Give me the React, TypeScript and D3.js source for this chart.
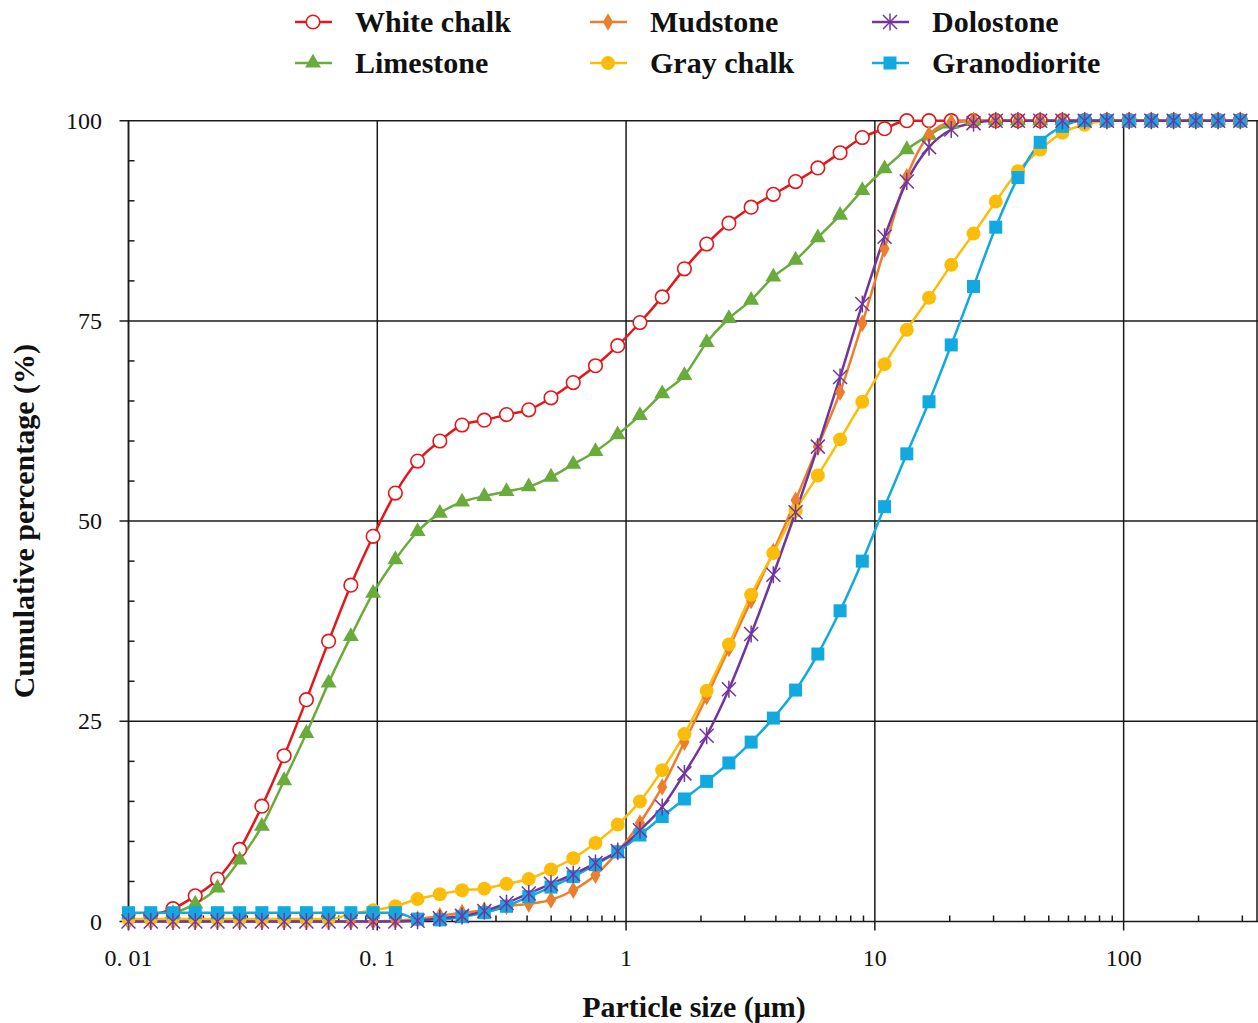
import * as d3 from 'd3'

// particle size classes (µm)
const sizes = [
  0.01, 0.01229, 0.01509, 0.01854, 0.02278, 0.02798, 0.03437, 0.04223, 0.05188, 0.06373,
  0.07829, 0.0962, 0.1182, 0.1452, 0.1784, 0.2191, 0.2692, 0.3307, 0.4063, 0.4991,
  0.6132, 0.7534, 0.9255, 1.137, 1.397, 1.716, 2.108, 2.59, 3.182, 3.908,
  4.802, 5.899, 7.247, 8.903, 10.94, 13.44, 16.51, 20.28, 24.92, 30.61,
  37.6, 46.19, 56.75, 69.71, 85.64, 105.2, 129.2, 158.8, 195.1, 239.7, 294.4,
]

const whiteChalk = [
  null, 0.8, 1.6, 3.2, 5.3, 9.0, 14.4, 20.7, 27.7, 35.0,
  42.0, 48.1, 53.5, 57.5, 60.0, 62.0, 62.6, 63.3, 63.9, 65.4,
  67.3, 69.4, 71.9, 74.8, 78.0, 81.5, 84.6, 87.2, 89.2, 90.8,
  92.4, 94.1, 96.0, 97.9, 99.0, 100, 100, 100, 100, 100,
  100, 100, 100, 100, 100, 100, 100, 100, 100, 100, 100,
]
const limestone = [
  null, null, 1.0, 2.2, 4.2, 7.7, 11.9, 17.6, 23.5, 29.8,
  35.6, 41.0, 45.2, 48.7, 51.0, 52.4, 53.1, 53.7, 54.3, 55.5,
  57.1, 58.7, 60.8, 63.2, 65.9, 68.2, 72.3, 75.3, 77.6, 80.5,
  82.6, 85.4, 88.2, 91.3, 94.0, 96.4, 98.2, 99.6, 100, 100,
  100, 100, 100, 100, 100, 100, 100, 100, 100, 100, 100,
]
const mudstone = [
  0, 0, 0, 0, 0, 0, 0, 0, 0, 0,
  0, 0, 0.1, 0.3, 0.7, 1.1, 1.4, 1.9, 2.2, 2.7,
  3.9, 5.8, 8.7, 12.3, 16.8, 22.4, 28.1, 34.1, 40.1, 46.2,
  52.6, 59.3, 66.1, 74.7, 84.0, 93.0, 98.2, 99.8, 100, 100,
  100, 100, 100, 100, 100, 100, 100, 100, 100, 100, 100,
]
const grayChalk = [
  0.3, 0.3, 0.3, 0.3, 0.3, 0.3, 0.3, 0.3, 0.3, 0.3,
  0.9, 1.4, 1.9, 2.8, 3.4, 3.9, 4.1, 4.7, 5.3, 6.5,
  7.9, 9.8, 12.1, 15.0, 18.9, 23.4, 28.8, 34.6, 40.8, 46.0,
  51.3, 55.7, 60.2, 64.9, 69.6, 73.9, 77.9, 82.0, 85.9, 89.9,
  93.7, 96.4, 98.5, 99.5, 100, 100, 100, 100, 100, 100, 100,
]
const dolostone = [
  0, 0, 0, 0, 0, 0, 0, 0, 0, 0,
  0, 0, 0, 0.1, 0.4, 0.7, 1.3, 2.3, 3.5, 4.7,
  5.9, 7.3, 8.8, 11.4, 14.3, 18.5, 23.2, 29.0, 35.9, 43.3,
  51.1, 59.3, 68.0, 77.1, 85.5, 92.4, 96.7, 98.9, 99.7, 100,
  100, 100, 100, 100, 100, 100, 100, 100, 100, 100, 100,
]
const granodiorite = [
  1.1, 1.1, 1.1, 1.1, 1.1, 1.1, 1.1, 1.1, 1.1, 1.1,
  1.1, 1.1, 1.1, 0.3, 0.2, 0.6, 1.1, 1.9, 3.1, 4.3,
  5.6, 7.1, 8.7, 10.8, 13.1, 15.3, 17.5, 19.8, 22.4, 25.4,
  28.9, 33.4, 38.8, 45.0, 51.8, 58.4, 64.9, 72.0, 79.3, 86.7,
  92.9, 97.3, 99.3, 100, 100, 100, 100, 100, 100, 100, 100,
]

const xTicks = [0.01, 0.1, 1, 10, 100]
const xTickLabels = ['0. 01', '0. 1', '1', '10', '100']
const yTicks = [0, 25, 50, 75, 100]

type Shape = 'openCircle' | 'triangle' | 'diamond' | 'circle' | 'square' | 'star'

interface Series {
  name: string
  values: (number | null)[]
  color: string
  shape: Shape
}

// drawing order (dolostone sits on top)
const series: Series[] = [
  { name: 'White chalk', values: whiteChalk, color: '#e5171b', shape: 'openCircle' },
  { name: 'Limestone', values: limestone, color: '#6aac3c', shape: 'triangle' },
  { name: 'Mudstone', values: mudstone, color: '#ee7d2c', shape: 'diamond' },
  { name: 'Gray chalk', values: grayChalk, color: '#fbbd0a', shape: 'circle' },
  { name: 'Granodiorite', values: granodiorite, color: '#12a9e0', shape: 'square' },
  { name: 'Dolostone', values: dolostone, color: '#7135a0', shape: 'star' },
]

const legendOrder = [
  ['White chalk', 'Mudstone', 'Dolostone'],
  ['Limestone', 'Gray chalk', 'Granodiorite'],
]

const W = 1258
const H = 1023
const font = '"Liberation Serif", "Times New Roman", serif'

const x = d3.scaleLog().domain([0.01, 350]).range([128.5, 1259])
const y = d3.scaleLinear().domain([0, 100]).range([921.5, 120.7])

const Marker = ({ shape, color, cx, cy }: { shape: Shape; color: string; cx: number; cy: number }) => {
  const t = `translate(${cx},${cy})`
  switch (shape) {
    case 'openCircle':
      return <circle cx={cx} cy={cy} r={6.8} fill="#fff" stroke={color} strokeWidth={1.6} />
    case 'circle':
      return <circle cx={cx} cy={cy} r={7} fill={color} />
    case 'triangle':
      return <path transform={t} d={d3.symbol(d3.symbolTriangle, 110)() ?? ''} fill={color} />
    case 'diamond':
      return <path transform={t} d={d3.symbol(d3.symbolDiamond, 90)() ?? ''} fill={color} />
    case 'square':
      return <rect x={cx - 6.5} y={cy - 6.5} width={13} height={13} fill={color} />
    case 'star':
      return (
        <g transform={t} stroke={color} strokeWidth={1.5} fill="none">
          <line x1={-7} y1={-7} x2={7} y2={7} />
          <line x1={-7} y1={7} x2={7} y2={-7} />
          <line x1={0} y1={-8.5} x2={0} y2={8.5} />
        </g>
      )
  }
}

const App = () => {
  const line = d3
    .line<{ s: number; v: number | null }>()
    .defined(d => d.v != null)
    .x(d => x(d.s))
    .y(d => y(d.v as number))
    .curve(d3.curveMonotoneX)

  const minorX: number[] = []
  xTicks.forEach(d => {
    for (let k = 2; k <= 9; k++) if (d * k <= 350) minorX.push(d * k)
  })
  const minorY = d3.range(5, 100, 5).filter(v => v % 25 !== 0)

  const [x0] = x.range()
  const [yb, yt] = y.range()

  return (
    <svg width={W} height={H} style={{ position: 'absolute', left: 0, top: 0, background: '#fff' }} fontFamily={font}>
      {/* grid */}
      <g stroke="#1a1a1a" strokeWidth={1.5}>
        {yTicks.map(v => (
          <line key={'h' + v} x1={x0 - 9} x2={W} y1={y(v)} y2={y(v)} />
        ))}
        {xTicks.map(v => (
          <line key={'v' + v} x1={x(v)} x2={x(v)} y1={yt} y2={yb + 9} />
        ))}
        <line x1={x0} x2={x0} y1={yt} y2={yb} />
        <line x1={W - 1} x2={W - 1} y1={yt} y2={yb} />
        {minorX.map(v => (
          <line key={'mx' + v} x1={x(v)} x2={x(v)} y1={yb} y2={yb - 6} />
        ))}
        {minorY.map(v => (
          <line key={'my' + v} x1={x0} x2={x0 + 6} y1={y(v)} y2={y(v)} />
        ))}
      </g>

      {/* tick labels */}
      <g fontSize={24} fill="#111">
        {xTicks.map((v, i) => (
          <text key={'xl' + v} x={x(v)} y={966} textAnchor="middle">
            {xTickLabels[i]}
          </text>
        ))}
        {yTicks.map(v => (
          <text key={'yl' + v} x={102} y={y(v) + 8} textAnchor="end">
            {v}
          </text>
        ))}
      </g>

      {/* axis titles */}
      <text x={694} y={1017} textAnchor="middle" fontSize={30} fontWeight="bold" fill="#111">
        Particle size (μm)
      </text>
      <text
        transform={`translate(34,${(yt + yb) / 2}) rotate(-90)`}
        textAnchor="middle"
        fontSize={30}
        fontWeight="bold"
        fill="#111"
      >
        Cumulative percentage (%)
      </text>

      {/* series lines */}
      {series.map(s => (
        <path
          key={'l' + s.name}
          d={line(sizes.map((sz, i) => ({ s: sz, v: s.values[i] }))) ?? ''}
          fill="none"
          stroke={s.color}
          strokeWidth={2.5}
        />
      ))}
      {/* markers */}
      {series.map(s => (
        <g key={'m' + s.name}>
          {sizes.map((sz, i) =>
            s.values[i] == null ? null : (
              <Marker key={i} shape={s.shape} color={s.color} cx={x(sz)} cy={y(s.values[i] as number)} />
            )
          )}
        </g>
      ))}

      {/* legend */}
      {legendOrder.map((row, r) =>
        row.map((name, c) => {
          const s = series.find(d => d.name === name)!
          const lx = [295, 590, 872][c]
          const ly = [22, 63][r]
          return (
            <g key={'lg' + name}>
              <line x1={lx} x2={lx + 37} y1={ly} y2={ly} stroke={s.color} strokeWidth={2.5} />
              <Marker shape={s.shape} color={s.color} cx={lx + 18} cy={ly} />
              <text x={lx + 60} y={ly + 10} fontSize={30} fontWeight="bold" fill="#111">
                {name}
              </text>
            </g>
          )
        })
      )}
    </svg>
  )
}

export default App
